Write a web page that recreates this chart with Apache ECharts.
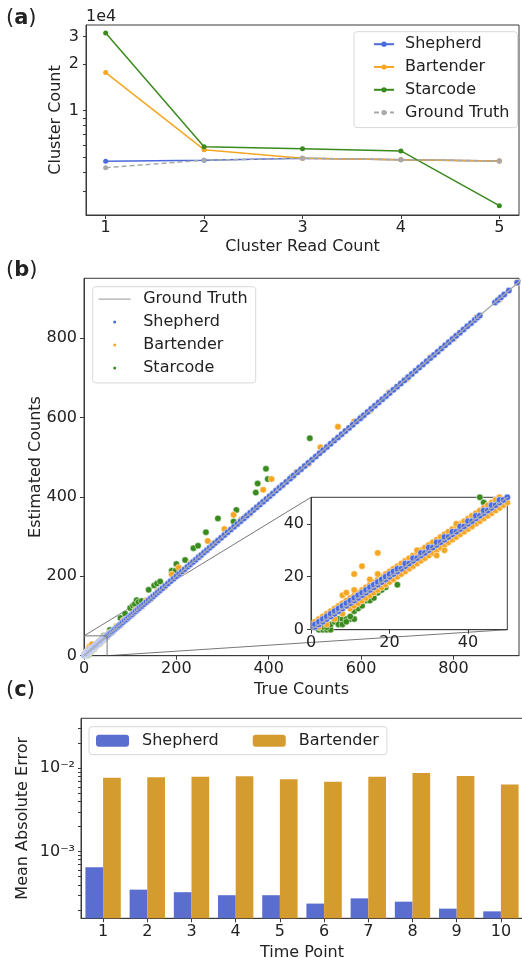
<!DOCTYPE html>
<html>
<head>
<meta charset="utf-8">
<script src="https://cdn.jsdelivr.net/npm/echarts@6.0.0/dist/echarts.min.js"></script>
<style>
html, body { margin: 0; padding: 0; background: #fff; }
.panel { position: absolute; left: 0; top: 0; width: 522px; height: 958px; }
</style>
</head>
<body>
<div id="chartA" class="panel"></div>
<div id="chartB" class="panel"></div>
<div id="chartC" class="panel"></div>
<script>
// ---- (a) cluster counts ----
var readCounts = [1, 2, 3, 4, 5]
var shepherdA = [4720, 4790, 4930, 4830, 4740]
var bartenderA = [17600, 5600, 4930, 4830, 4740]
var starcodeA = [31700, 5860, 5690, 5500, 2440]
var truthA = [4290, 4790, 4930, 4830, 4740]
var aTickLabels = [10000, 20000, 30000]
var aMinorTicks = [3000, 4000, 5000, 6000, 7000, 8000, 9000, 10000, 20000, 30000]

// ---- (b) estimated vs true counts, [true, estimated] ----
var shepherdB = [
  [1,1],[1,2],[2,2],[2,3],[3,3],[3,4],[4,4],[4,5],[5,5],[5,6],[6,6],[6,7],[7,7],[7,8],[8,8],[8,9],[9,9],[9,10],
  [10,10],[10,11],[11,11],[11,12],[12,12],[12,13],[13,13],[13,14],[14,14],[14,15],[15,15],[15,16],[16,16],[16,17],
  [17,17],[17,18],[18,18],[18,19],[19,19],[19,20],[20,20],[20,21],[21,21],[21,22],[22,22],[22,23],[23,23],[24,24],
  [24,25],[25,25],[26,26],[26,27],[27,27],[28,28],[28,29],[29,29],[30,30],[30,31],[31,31],[32,32],[32,33],[33,33],
  [34,34],[34,35],[35,35],[36,36],[36,37],[37,37],[38,38],[38,39],[39,39],[40,40],[40,41],[41,41],[42,42],[42,43],
  [43,43],[44,44],[44,45],[45,45],[46,46],[46,47],[47,47],[48,48],[48,49],[49,49],[50,50],
  [52,52],[55,55],[58,58],[61,61],[64,64],[67,67],[70,70],[73,73],[76,76],[80,80],[84,84],[88,88],[92,92],[96,96],
  [100,100],[104,104],[108,108],[112,112],[116,116],[120,120],[125,125],[130,130],[135,135],[140,140],[145,145],
  [150,150],[155,155],[160,160],[165,165],[170,170],[176,176],[182,182],[188,188],[194,194],[200,200],[206,206],
  [212,212],[218,218],[224,224],[230,230],[236,236],[242,242],[248,248],[254,254],[260,260],[266,266],[272,272],
  [278,278],[284,284],[290,290],[297,297],[304,304],[311,311],[318,318],[325,325],[332,332],[339,339],[346,346],
  [353,353],[360,360],[367,367],[374,374],[381,381],[388,388],[395,395],[402,402],[409,409],[416,416],[423,423],
  [430,430],[438,438],[446,446],[454,454],[462,462],[470,470],[478,478],[486,486],[494,494],[502,502],[510,510],
  [518,518],[526,526],[534,534],[542,542],[550,550],[558,558],[566,566],[574,574],[582,582],[590,590],[598,598],
  [606,606],[614,614],[622,622],[630,630],[638,638],[646,646],[654,654],[662,662],[670,670],[678,678],[686,686],
  [694,694],[702,702],[710,710],[718,718],[726,726],[734,734],[742,742],[750,750],[758,758],[766,766],[774,774],
  [782,782],[790,790],[798,798],[806,806],[814,814],[822,822],[830,830],[838,838],[846,846],[852,852],[857,857],
  [890,890],[896,896],[903,903],[910,910],[920,920],[938,940]
]
var bartenderB = [
  [1,3],[2,4],[3,5],[4,6],[5,7],[6,8],[7,9],[8,10],[9,11],[10,12],[11,13],[12,14],[13,15],[14,16],[15,17],[16,18],
  [17,19],[18,20],[19,21],[20,22],[21,23],[22,24],[23,25],[24,26],[25,27],[26,28],[27,29],[28,30],[29,31],[30,32],
  [31,33],[32,34],[33,35],[34,36],[35,37],[36,38],[37,39],[38,40],[39,41],[40,42],[41,43],[42,44],[43,45],[44,46],
  [45,47],[46,48],[47,49],[48,50],
  [2,1],[4,2],[6,4],[8,6],[10,8],[11,9],[12,10],[13,11],[14,12],[15,13],[16,14],[17,15],[18,16],[19,17],[20,18],
  [21,19],[22,20],[23,21],[24,22],[25,23],[26,24],[27,25],[28,26],[29,27],[30,28],[31,29],[32,30],[33,31],[34,32],
  [35,33],[36,34],[37,35],[38,36],[39,37],[40,38],[41,39],[42,40],[43,41],[44,42],[45,43],[46,44],[47,45],[48,46],
  [49,47],[50,48],
  [8,13],[9,14],[11,15],[11,21],[13,24],[15,19],[17,21],[17,29],[27,30],[32,28],[34,30],[37,40],[41,39],
  [55,58],[62,60],[70,74],[78,76],[85,89],[95,93],[105,103],[112,116],[125,123],[135,139],[145,143],[160,163],
  [175,173],[190,205],[205,222],[215,213],[230,233],[250,248],[268,289],[280,283],[304,319],[324,355],[340,343],
  [360,358],[388,418],[406,445],[430,428],[460,463],[487,484],[512,525],[550,577],[585,590],[620,618],[660,663],
  [700,698],[750,752],[800,798],[850,852],[900,898],[938,940]
]
var starcodeB = [
  [2,0],[3,0],[4,0],[5,0],[2,1],[3,1],[4,1],[5,2],[6,3],[7,4],[8,4],[9,4],[10,4],[11,4],[7,2],[8,2],[9,3],[10,5],
  [11,7],[12,8],[12,10],[13,9],[14,11],[15,11],[16,12],[17,14],[18,15],[19,16],[22,17],[25,25],[30,30],[35,35],
  [40,40],[43,50],[44,48],
  [56,65],[60,60],[79,95],[89,106],[100,120],[106,126],[110,130],[114,140],[118,135],[125,138],[140,166],[150,150],
  [152,177],[158,182],[165,187],[190,214],[198,214],[200,231],[219,241],[237,271],[247,277],[250,250],[264,311],
  [290,346],[324,338],[330,367],[350,350],[372,411],[376,434],[394,471],[398,445],[450,450],[489,548],[600,600],
  [700,700],[800,800],[900,900]
]
var truthLine = [[0, 0], [960, 960]]
var zoomBox = [[0, 50], [50, 50], [50, 0]]
var bTicks = [0, 200, 400, 600, 800]
var insetTicks = [0, 20, 40]

// ---- (c) mean absolute error per time point ----
var timePoints = ['1', '2', '3', '4', '5', '6', '7', '8', '9', '10']
var shepherdC = [6.5e-4, 3.5e-4, 3.26e-4, 3.0e-4, 3.0e-4, 2.38e-4, 2.75e-4, 2.51e-4, 2.07e-4, 1.92e-4]
var bartenderC = [0.0077, 0.0078, 0.0079, 0.0080, 0.0074, 0.0069, 0.0079, 0.0088, 0.0081, 0.0064]
var cTickLabels = [0.001, 0.01]
var cMinorTicks = [2e-4, 3e-4, 4e-4, 5e-4, 6e-4, 7e-4, 8e-4, 9e-4, 0.001, 0.002, 0.003, 0.004, 0.005, 0.006, 0.007, 0.008, 0.009, 0.01, 0.02, 0.03]

var FONT = 'DejaVu Sans'
var INK = '#222'
var SPINE = '#3a3a3a'
var BLUE = '#4a69dc'
var ORANGE = '#f5a623'
var GREEN = '#3a8a1e'
var GREY = '#a9a9a9'
var LINE_ICON = 'path://M0,0 L40,0 L40,1.6 L0,1.6 Z'

function zip (xs, ys) {
  return xs.map(function (x, i) { return [x, ys[i]] })
}

function panelLabel (letter, top) {
  return {
    type: 'text', left: 6, top: top,
    style: {text: '({b|' + letter + '})', fontFamily: FONT, fontSize: 21, fill: INK,
      rich: {b: {fontFamily: FONT, fontSize: 21, fontWeight: 'bold', fill: INK}}}
  }
}

function baseAxis (o) {
  var ax = {
    axisLine: {show: true, onZero: false, lineStyle: {color: SPINE, width: 1}},
    axisTick: {show: true, length: 4, lineStyle: {color: SPINE}},
    axisLabel: {color: INK, fontSize: 16, fontFamily: FONT},
    splitLine: {show: false},
    nameLocation: 'middle',
    nameMoveOverlap: false,
    nameTextStyle: {color: INK, fontSize: 16, fontFamily: FONT}
  }
  for (var k in o) {
    if (typeof o[k] === 'object' && !Array.isArray(o[k]) && ax[k]) {
      ax[k] = Object.assign({}, ax[k], o[k])
    } else {
      ax[k] = o[k]
    }
  }
  return ax
}

function gridBox (o) {
  return Object.assign({show: true, borderColor: SPINE, borderWidth: 1, backgroundColor: 'transparent', outerBoundsMode: 'none', containLabel: false}, o)
}

var legendBox = {
  orient: 'vertical',
  backgroundColor: 'rgba(255,255,255,0.85)',
  borderColor: '#d9d9d9',
  borderWidth: 1,
  borderRadius: 3,
  textStyle: {color: INK, fontSize: 16, fontFamily: FONT, lineHeight: 16}
}

// ---------- chart A ----------
var chartA = echarts.init(document.getElementById('chartA'))
chartA.setOption({
  animation: false,
  textStyle: {fontFamily: FONT},
  grid: gridBox({left: 86, top: 25, width: 433, height: 190}),
  legend: Object.assign({}, legendBox, {
    left: 354, top: 31.7, itemWidth: 20, itemHeight: 6.5, itemGap: 6.8,
    padding: [4.5, 8, 7, 19],
    textStyle: Object.assign({}, legendBox.textStyle, {padding: [0, 0, 0, 6]}),
    data: ['Shepherd', 'Bartender', 'Starcode', 'Ground Truth']
  }),
  xAxis: baseAxis({
    type: 'value', min: 0.8, max: 5.2,
    name: 'Cluster Read Count', nameGap: 24,
    axisTick: {customValues: readCounts},
    axisLabel: {customValues: readCounts, margin: 5}
  }),
  yAxis: baseAxis({
    type: 'log', logBase: 10, min: 2123, max: 35700,
    name: 'Cluster Count', nameGap: 22,
    axisTick: {customValues: aMinorTicks, length: 3},
    axisLabel: {customValues: aTickLabels, margin: 7, formatter: function (v) { return String(Math.round(v / 10000)) }}
  }),
  graphic: [
    panelLabel('a', 8),
    {type: 'text', left: 86, top: 9, style: {text: '1e4', fontFamily: FONT, fontSize: 16, fill: INK}}
  ],
  series: [
    {name: 'Shepherd', type: 'line', data: zip(readCounts, shepherdA), color: BLUE, symbol: 'circle', symbolSize: 5, lineStyle: {width: 1.5}},
    {name: 'Bartender', type: 'line', data: zip(readCounts, bartenderA), color: ORANGE, symbol: 'circle', symbolSize: 5, lineStyle: {width: 1.5}},
    {name: 'Starcode', type: 'line', data: zip(readCounts, starcodeA), color: GREEN, symbol: 'circle', symbolSize: 5, lineStyle: {width: 1.5}},
    {name: 'Ground Truth', type: 'line', data: zip(readCounts, truthA), color: GREY, symbol: 'circle', symbolSize: 5, lineStyle: {width: 1.5, type: [5, 3]}}
  ]
})

// ---------- chart B ----------
var chartB = echarts.init(document.getElementById('chartB'))
var dotStyle = {borderColor: '#fff', borderWidth: 0.5, opacity: 1}
chartB.setOption({
  animation: false,
  textStyle: {fontFamily: FONT},
  grid: [
    gridBox({left: 84, top: 278.3, width: 435, height: 377.4}),
    gridBox({left: 311, top: 497.3, width: 196.3, height: 132.4, backgroundColor: '#fff'})
  ],
  legend: Object.assign({}, legendBox, {
    left: 92.7, top: 286.7, itemWidth: 32, itemHeight: 5, itemGap: 6.9,
    padding: [4.5, 8, 7, 6],
    textStyle: Object.assign({}, legendBox.textStyle, {padding: [0, 0, 0, 7.5]}),
    data: [{name: 'Ground Truth', icon: LINE_ICON}, 'Shepherd', 'Bartender', 'Starcode']
  }),
  xAxis: [
    baseAxis({gridIndex: 0, type: 'value', min: 0, max: 942, name: 'True Counts', nameGap: 26,
      axisTick: {customValues: bTicks}, axisLabel: {customValues: bTicks, margin: 5}}),
    baseAxis({gridIndex: 1, type: 'value', min: 0, max: 50,
      axisTick: {customValues: insetTicks}, axisLabel: {customValues: insetTicks, margin: 5}})
  ],
  yAxis: [
    baseAxis({gridIndex: 0, type: 'value', min: 0, max: 951, name: 'Estimated Counts', nameGap: 40,
      axisTick: {customValues: bTicks}, axisLabel: {customValues: bTicks, margin: 7}}),
    baseAxis({gridIndex: 1, type: 'value', min: 0, max: 50,
      axisTick: {customValues: insetTicks}, axisLabel: {customValues: insetTicks, margin: 7}})
  ],
  series: [
    {name: 'Ground Truth', type: 'line', xAxisIndex: 0, yAxisIndex: 0, data: truthLine, symbol: 'none', color: GREY, lineStyle: {width: 1.2}},
    {name: 'Starcode', type: 'scatter', xAxisIndex: 0, yAxisIndex: 0, data: starcodeB, color: GREEN, symbolSize: 6.5, itemStyle: dotStyle},
    {name: 'Bartender', type: 'scatter', xAxisIndex: 0, yAxisIndex: 0, data: bartenderB, color: ORANGE, symbolSize: 6.5, itemStyle: dotStyle},
    {name: 'Shepherd', type: 'scatter', xAxisIndex: 0, yAxisIndex: 0, data: shepherdB, color: BLUE, symbolSize: 6.5, itemStyle: dotStyle},
    {name: 'zoom', type: 'line', xAxisIndex: 0, yAxisIndex: 0, data: zoomBox, symbol: 'none', color: '#777', lineStyle: {width: 1}, silent: true, z: 3},
    {name: 'Ground Truth', type: 'line', xAxisIndex: 1, yAxisIndex: 1, data: truthLine, symbol: 'none', color: GREY, lineStyle: {width: 1.2}},
    {name: 'Starcode', type: 'scatter', xAxisIndex: 1, yAxisIndex: 1, data: starcodeB, color: GREEN, symbolSize: 6.5, itemStyle: dotStyle},
    {name: 'Bartender', type: 'scatter', xAxisIndex: 1, yAxisIndex: 1, data: bartenderB, color: ORANGE, symbolSize: 6.5, itemStyle: dotStyle},
    {name: 'Shepherd', type: 'scatter', xAxisIndex: 1, yAxisIndex: 1, data: shepherdB, color: BLUE, symbolSize: 6.5, itemStyle: dotStyle}
  ]
})
// connectors between the zoom box and the inset
var p1 = chartB.convertToPixel({gridIndex: 0}, [0, 50])
var p2 = chartB.convertToPixel({gridIndex: 1}, [0, 50])
var p3 = chartB.convertToPixel({gridIndex: 0}, [50, 0])
var p4 = chartB.convertToPixel({gridIndex: 1}, [50, 0])
chartB.setOption({
  graphic: [
    panelLabel('b', 260),
    {type: 'line', shape: {x1: p1[0], y1: p1[1], x2: p2[0], y2: p2[1]}, style: {stroke: '#777', lineWidth: 1}, silent: true},
    {type: 'line', shape: {x1: p3[0], y1: p3[1], x2: p4[0], y2: p4[1]}, style: {stroke: '#777', lineWidth: 1}, silent: true}
  ]
})

// ---------- chart C ----------
var chartC = echarts.init(document.getElementById('chartC'))
chartC.setOption({
  animation: false,
  textStyle: {fontFamily: FONT},
  grid: gridBox({left: 81, top: 718.3, width: 442, height: 200}),
  legend: Object.assign({}, legendBox, {
    orient: 'horizontal', left: 89, top: 726.7, itemWidth: 33, itemHeight: 12, itemGap: 34,
    padding: [6, 8, 6, 7],
    textStyle: Object.assign({}, legendBox.textStyle, {padding: [0, 0, 0, 8]}),
    data: ['Shepherd', 'Bartender']
  }),
  xAxis: baseAxis({
    type: 'category', data: timePoints, name: 'Time Point', nameGap: 27,
    axisTick: {alignWithLabel: true},
    axisLabel: {margin: 6}
  }),
  yAxis: baseAxis({
    type: 'log', logBase: 10, min: 1.585e-4, max: 0.0398, startValue: 1e-4,
    name: 'Mean Absolute Error', nameGap: 50,
    axisTick: {customValues: cMinorTicks, length: 3},
    axisLabel: {customValues: cTickLabels, margin: 6, formatter: function (v) { return v > 0.005 ? '10⁻²' : '10⁻³' }}
  }),
  graphic: [panelLabel('c', 680)],
  series: [
    {name: 'Shepherd', type: 'bar', data: shepherdC, color: '#5a6ecf', barWidth: '40%', barGap: '0%', clip: true},
    {name: 'Bartender', type: 'bar', data: bartenderC, color: '#d49b2f', barWidth: '40%', barGap: '0%', clip: true}
  ]
})
</script>
</body>
</html>
